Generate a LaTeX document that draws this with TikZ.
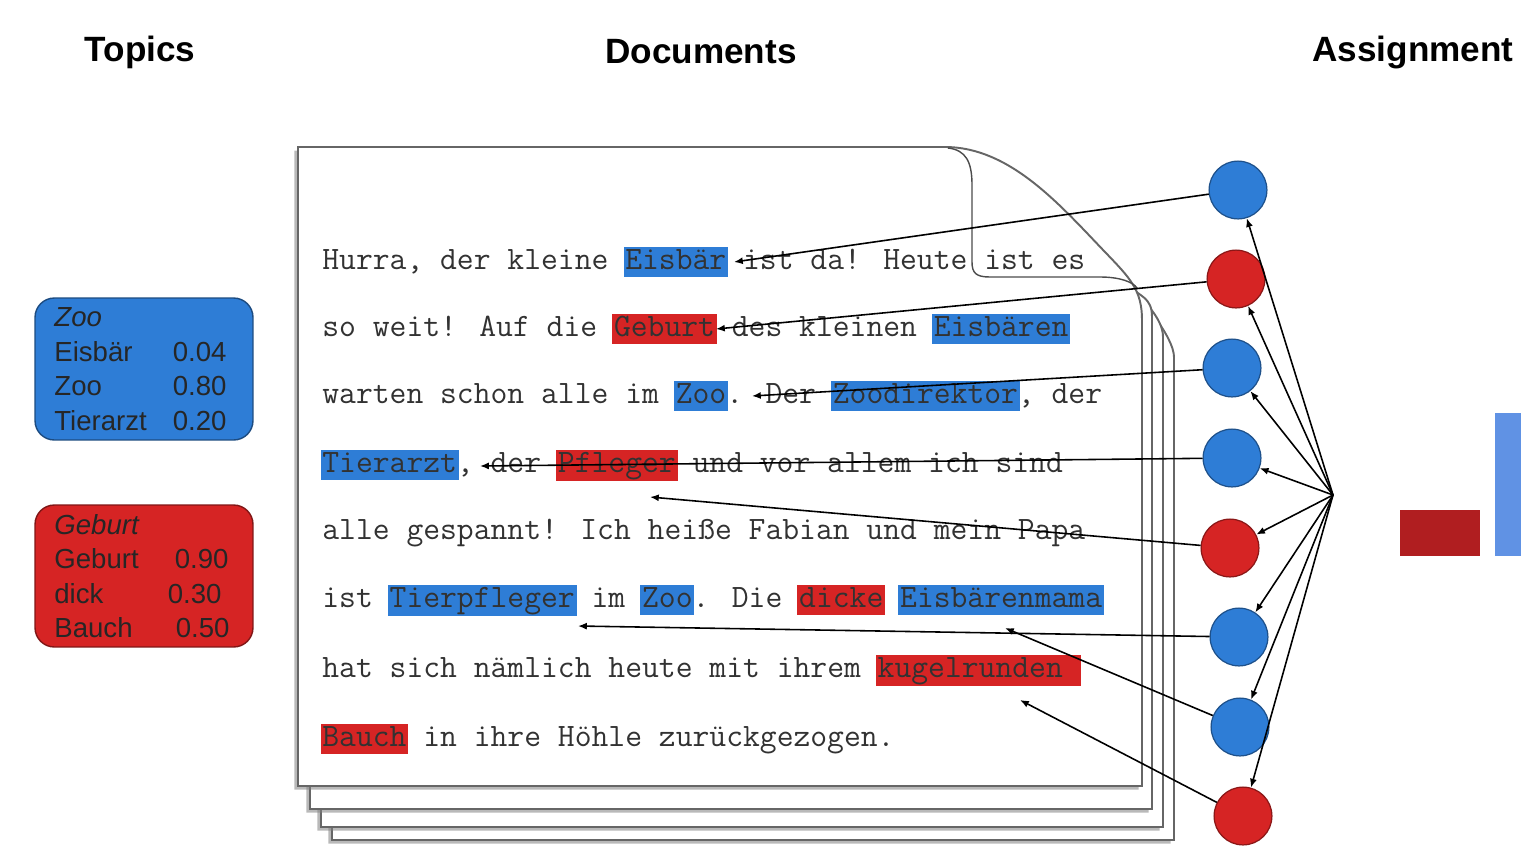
\documentclass[tikz,border=0pt]{standalone}
\usepackage{fontspec}
\setmainfont{Liberation Sans}
\usetikzlibrary{arrows.meta,shadows}

\definecolor{zooblue}{RGB}{46,125,214}
\definecolor{gebred}{RGB}{214,36,36}
\definecolor{bardark}{RGB}{176,30,32}
\definecolor{barlight}{RGB}{96,146,228}
\definecolor{inkgray}{RGB}{50,50,50}

\newdimen\pxu \pxu=0.5669pt
\newcommand\hlz[1]{{\setlength{\fboxsep}{1pt}\hspace{-1pt}\colorbox{zooblue}{\rule[-3.5pt]{0pt}{13.5pt}#1}\hspace{-1pt}}}
\newcommand\hlg[1]{{\setlength{\fboxsep}{1pt}\hspace{-1pt}\colorbox{gebred}{\rule[-3.5pt]{0pt}{13.5pt}#1}\hspace{-1pt}}}

\begin{document}
\begin{tikzpicture}[x=0.02cm, y=-0.02cm,
    page/.style={fill=white, draw=black!60, line width=1.1pt,
        drop shadow={shadow xshift=-2pt, shadow yshift=-2pt, opacity=.55}},
    docline/.style={anchor=base west, inner sep=0pt, text=inkgray,
        font=\ttfamily\fontsize{18.6}{22}\selectfont},
    topicbox/.style={rounded corners=11pt, minimum width=4.36cm, minimum height=2.84cm,
        text width=102pt, align=left, inner sep=0pt, line width=0.8pt, text=black!85,
        font=\fontsize{15.7}{19.6}\selectfont},
    title/.style={font=\bfseries\fontsize{20}{24}\selectfont},
    dot/.style={circle, minimum size=32.9pt, inner sep=0pt, line width=0.7pt},
    wire/.style={-{Latex[length=5pt,width=4pt]}, line width=0.9pt}]
    \useasboundingbox (0,0) rectangle (1521,846);

    % titles
    \node[title] (ttopics) at (140,52) {Topics};
    \node[title] (tdocs) at (701,52) {Documents};
    \node[title, anchor=west, inner sep=0pt] (tassign) at (1312,52) {Assignment};

    % stack of pages, back to front
    \foreach \L/\R/\B/\V in {332/1174/840/357, 321/1163/827/337, 310/1152/809/317}
        \path[page] (\L,245) -- (1085,245) -- (1128,285) .. controls (1140,297) and (\R,\V-20) .. (\R,\V) -- (\R,\B) -- (\L,\B) -- cycle;
    \path[page] (298,147) -- (945,147) .. controls (1010,147) and (1060,205) .. (1105,252)
        .. controls (1130,278) and (1142,290) .. (1142,320) -- (1142,786) -- (298,786) -- cycle;
    % dog-ear
    \draw[black!70, line width=0.8pt] (948,148) .. controls (966,150) and (972,162) .. (972,185) -- (972,262)
        .. controls (972,273) and (976,277) .. (990,277) -- (1100,277) .. controls (1120,277) and (1133,282) .. (1137,288);

    % text of the document
    \node[docline] (l1) at (322,269) {Hurra, der kleine \hlz{Eisbär} ist da! Heute ist es};
    \node[docline] (l2) at (322,336) {so weit! Auf die \hlg{Geburt} des kleinen \hlz{Eisbären}};
    \node[docline] (l3) at (322,403) {warten schon alle im \hlz{Zoo}. Der \hlz{Zoodirektor}, der};
    \node[docline] (l4) at (322,472) {\hlz{Tierarzt}, der \hlg{Pfleger} und vor allem ich sind};
    \node[docline] (l5) at (322,539) {alle gespannt! Ich heiße Fabian und mein Papa};
    \node[docline] (l6) at (322,607) {ist \hlz{Tierpfleger} im \hlz{Zoo}. Die \hlg{dicke} \hlz{Eisbärenmama}};
    \node[docline] (l7) at (322,677) {hat sich nämlich heute mit ihrem \hlg{kugelrunden }};
    \node[docline] (l8) at (322,746) {\hlg{Bauch} in ihre Höhle zurückgezogen.};

    % topics
    \node[topicbox, fill=zooblue, draw=zooblue!60!black] (zoo) at (144,369)
        {\textit{Zoo}\\ \makebox[119\pxu][l]{Eisbär}0.04\\ \makebox[119\pxu][l]{Zoo}0.80\\ \makebox[119\pxu][l]{Tierarzt}0.20};
    \node[topicbox, fill=gebred, draw=gebred!60!black] (geburt) at (144,576)
        {\textit{Geburt}\\ \makebox[121\pxu][l]{Geburt}0.90\\ \makebox[114\pxu][l]{dick}0.30\\ \makebox[122\pxu][l]{Bauch}0.50};

    % assignment circles
    \foreach \i/\x/\y/\c in {1/1238/190/zooblue, 2/1236/279/gebred, 3/1232/368/zooblue, 4/1232/458/zooblue,
                             5/1230/548/gebred, 6/1239/637/zooblue, 7/1240/727/zooblue, 8/1243/816/gebred}
        \node[dot, fill=\c, draw=\c!65!black] (c\i) at (\x,\y) {};
    \coordinate (hub) at (1333,495);

    % word positions
    \coordinate (w1) at (734,262);
    \coordinate (w2) at (716,329);
    \coordinate (w3) at (752,396);
    \coordinate (w4) at (480,466);
    \coordinate (w5) at (650,497);
    \coordinate (w6) at (578,626);
    \coordinate (w7) at (1005,628);
    \coordinate (w8) at (1020,700);

    \foreach \i in {1,...,8} {
        \draw[wire] (c\i) -- (w\i);
        \draw[wire] (hub) -- (c\i);
    }

    % assignment bars
    \fill[bardark] (1400,510) rectangle (1480,556);
    \fill[barlight] (1495,413) rectangle (1540,556);
\end{tikzpicture}
\end{document}
